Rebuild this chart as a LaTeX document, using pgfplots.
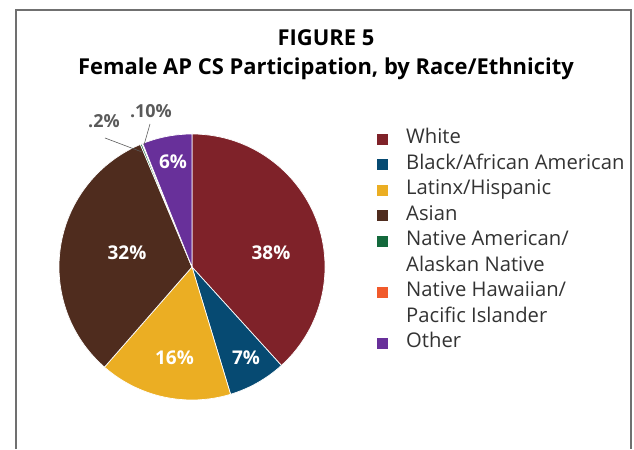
\documentclass[border=0pt]{standalone}
\usepackage{pgfplots}
\pgfplotsset{compat=1.18}
\usepackage{fontspec}
\setmainfont{Open Sans}[Ligatures=NoCommon]
\definecolor{cWhite}{HTML}{7F2229}
\definecolor{cBlack}{HTML}{064A72}
\definecolor{cLatinx}{HTML}{EBAE23}
\definecolor{cAsian}{HTML}{4F2C1E}
\definecolor{cNative}{HTML}{13693C}
\definecolor{cHawaii}{HTML}{F15A2B}
\definecolor{cOther}{HTML}{68309A}
\definecolor{frameGray}{HTML}{707070}
\definecolor{txt}{HTML}{333333}
\definecolor{lbl}{HTML}{5A5A5A}
\begin{document}
\begin{tikzpicture}
\begin{axis}[width=634bp,height=449bp,scale only axis,
  xmin=0,xmax=634,ymin=0,ymax=449,hide axis,clip=false]
\path (axis cs:0,0) rectangle (axis cs:634,449);
% frame
\draw[frameGray,line width=1.8bp] (axis cs:16,0) -- (axis cs:16,439) -- (axis cs:631,439) -- (axis cs:631,0);
% titles
\node[anchor=base,font=\fontsize{22}{26}\selectfont\bfseries,text=black] at (axis cs:326,403) {FIGURE 5};
\node[anchor=base,font=\fontsize{22}{26}\selectfont\bfseries,text=black] at (axis cs:326,374) {Female AP CS Participation, by Race/Ethnicity};
% pie
\pgfplotsextra{
  \xdef\startang{90}
  \foreach \v/\c in {38/cWhite,7/cBlack,16/cLatinx,32/cAsian,0.2/cNative,0.1/cHawaii,6/cOther}{
    \pgfmathsetmacro\endang{\startang-\v*360/99.3}
    \fill[\c,draw=white,line width=0.7bp] (axis cs:192,182) -- ++(\startang:133bp) arc[start angle=\startang,end angle=\endang,radius=133bp] -- cycle;
    \xdef\startang{\endang}
  }
}
% slice labels
\begin{scope}[every node/.style={anchor=base,font=\fontsize{19}{22}\selectfont\bfseries,text=white}]
\node at (axis cs:271,189) {38\%};
\node at (axis cs:246,84) {7\%};
\node at (axis cs:174.5,84) {16\%};
\node at (axis cs:127,189) {32\%};
\node at (axis cs:173,280) {6\%};
\end{scope}
\node[anchor=base,font=\fontsize{18}{21}\selectfont\bfseries,text=lbl] at (axis cs:104,321) {.2\%};
\node[anchor=base,font=\fontsize{18}{21}\selectfont\bfseries,text=lbl] at (axis cs:151,331) {.10\%};
\draw[lbl,line width=0.6bp] (axis cs:105,311) -- (axis cs:142,297);
\draw[lbl,line width=0.6bp] (axis cs:150,325) -- (axis cs:144,304);
% legend
\begin{scope}[every node/.style={font=\fontsize{20.3}{24}\selectfont,text=txt,anchor=base west,inner sep=0pt}]
\fill[cWhite]  (axis cs:377,304) rectangle (axis cs:388,315); \node at (axis cs:406,305) {White};
\fill[cBlack]  (axis cs:377,278.5) rectangle (axis cs:388,289.5); \node at (axis cs:406,279.5) {Black/African American};
\fill[cLatinx] (axis cs:377,253) rectangle (axis cs:388,264); \node at (axis cs:406,254) {Latinx/Hispanic};
\fill[cAsian]  (axis cs:377,227.5) rectangle (axis cs:388,238.5); \node at (axis cs:406,228.5) {Asian};
\fill[cNative] (axis cs:377,202) rectangle (axis cs:388,213); \node at (axis cs:406,203) {Native American/};
\node at (axis cs:406,177.5) {Alaskan Native};
\fill[cHawaii] (axis cs:377,151) rectangle (axis cs:388,162); \node at (axis cs:406,152) {Native Hawaiian/};
\node at (axis cs:406,126.5) {Pacific Islander};
\fill[cOther]  (axis cs:377,100) rectangle (axis cs:388,111); \node at (axis cs:406,101) {Other};
\end{scope}
\end{axis}
\end{tikzpicture}
\end{document}
